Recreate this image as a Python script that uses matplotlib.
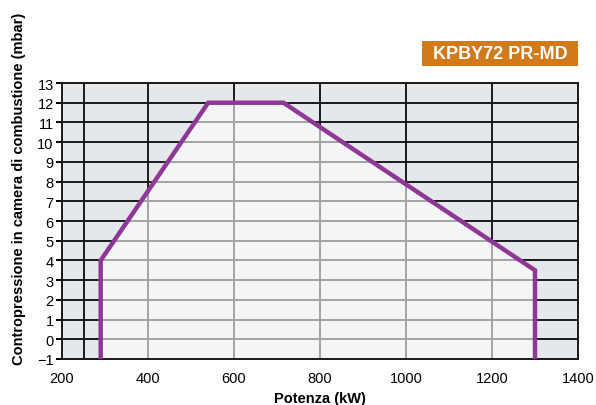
import matplotlib
matplotlib.use("Agg")
import matplotlib.pyplot as plt
from matplotlib.patches import Polygon, Rectangle

plt.rcParams['font.family'] = ['Liberation Sans', 'DejaVu Sans']

# Working field envelope
power_kw = [290, 290, 540, 715, 1300, 1300]
pressure_mbar = [-1, 4, 12, 12, 3.5, -1]

x_ticks = [200, 400, 600, 800, 1000, 1200, 1400]
x_grid = [250, 400, 600, 800, 1000, 1200]
y_ticks = list(range(-1, 14))
model = "KPBY72 PR-MD"

W, H = 596, 406
fig = plt.figure(figsize=(W/100, H/100), dpi=100)
ax = fig.add_axes([62/W, 1-360/H, (578-62)/W, (360-84)/H])
ax.set_facecolor('#e5e8eb')
ax.set_xlim(200, 1400)
ax.set_ylim(-1, 13)

for xv in x_grid:
    ax.axvline(xv, color='#1a1a1a', lw=1.4, zorder=1)
for yv in y_ticks:
    ax.axhline(yv, color='#1a1a1a', lw=1.4, zorder=1)

pts = list(zip(power_kw, pressure_mbar))
ax.add_patch(Polygon(pts, closed=True, facecolor='white', alpha=0.6,
                     edgecolor='none', zorder=2))
ax.plot(power_kw, pressure_mbar, color='#8e3797', lw=3.2, zorder=3,
        solid_joinstyle='miter', solid_capstyle='butt')

ax.set_xticks(x_ticks)
ax.set_yticks(y_ticks)
ax.tick_params(axis='x', length=0, pad=9, labelsize=10.5)
ax.tick_params(axis='y', length=4, width=1.4, pad=2, labelsize=10.5)
for s in ax.spines.values():
    s.set_linewidth(1.4)
    s.set_color('#1a1a1a')

ax.set_xlabel('Potenza (kW)', fontsize=10.5, fontweight='bold', labelpad=4)
fig.text(19/W, 1-189/H, 'Contropressione in camera di combustione (mbar)',
         rotation=90, ha='center', va='center', fontsize=10.5, fontweight='bold')

fig.patches.append(Rectangle((422/W, 1-67/H), (578-422)/W, 25/H,
                             transform=fig.transFigure, facecolor='#d07a1a',
                             edgecolor='none', zorder=0))
fig.text(500/W, 1-54.5/H, model, ha='center', va='center', color='white',
         fontsize=13, fontweight='bold')

fig.savefig('out.png', dpi=100)
